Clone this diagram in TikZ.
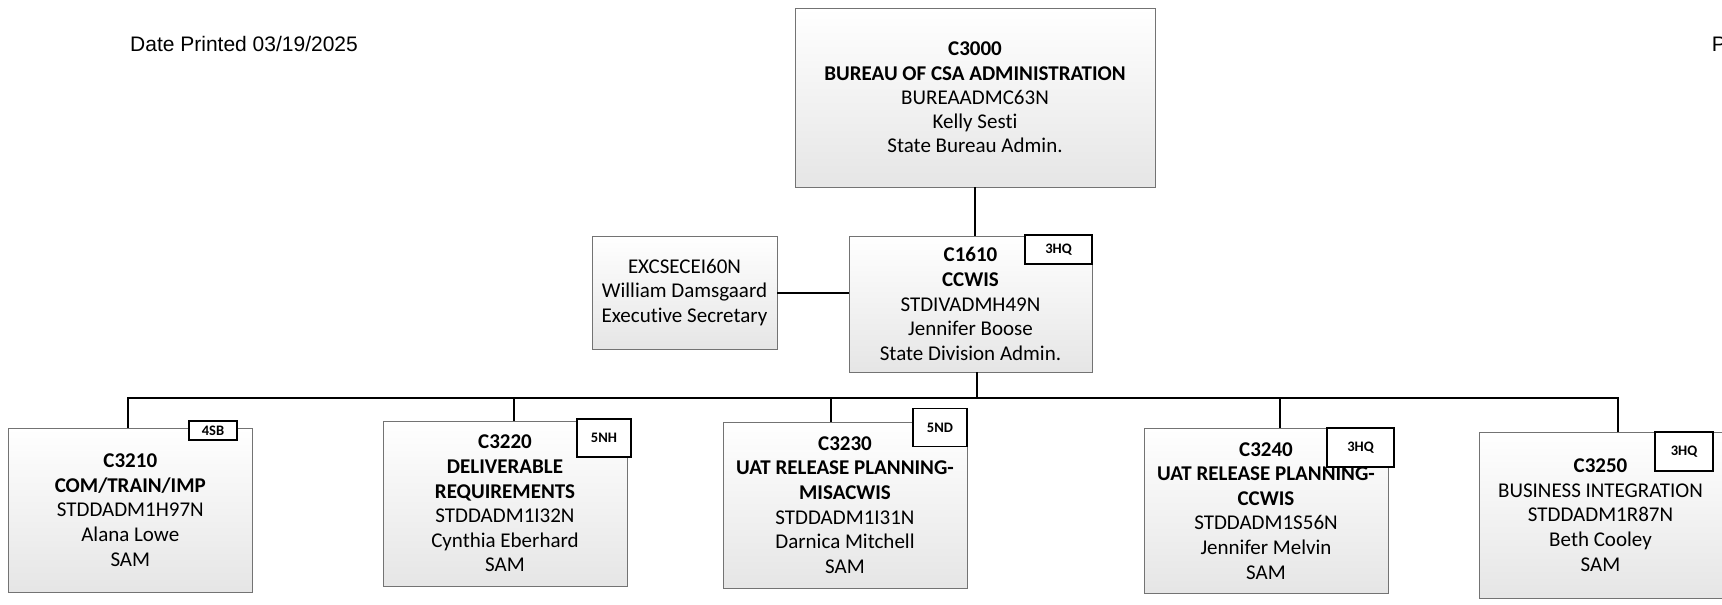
\documentclass[tikz,border=0pt]{standalone}
\usepackage{fontspec}
\setmainfont{Carlito}[Ligatures={NoCommon}]
\newfontfamily\arialfont{Liberation Sans}
\tikzset{
  unitbox/.style={draw=black!55, line width=0.9pt, top color=white, bottom color=black!10,
    inner sep=0pt, align=center, font=\fontsize{21}{24.6}\selectfont},
  tagbox/.style={draw=black, line width=1.6pt, fill=white, inner sep=0pt,
    font=\bfseries\fontsize{14.5}{16}\selectfont},
  link/.style={draw=black, line width=2pt},
  headtext/.style={anchor=base west, inner sep=0pt, font=\arialfont\fontsize{21}{24}\selectfont},
}
\begin{document}
\begin{tikzpicture}[x=1pt, y=-1pt]
\useasboundingbox (0,0) rectangle (1722,605);

\node[headtext] (date) at (130,51.7) {Date Printed 03/19/2025};
\node[headtext] (page) at (1711.7,51.7) {P};

% top
\node[unitbox, minimum width=360pt, minimum height=179pt, font=\fontsize{21}{24.2}\selectfont] (c3000) at (975,97.5)
  {\textbf{C3000}\\\textbf{BUREAU OF CSA ADMINISTRATION}\\BUREAADMC63N\\Kelly Sesti\\State Bureau Admin.};

% second level
\node[unitbox, minimum width=243pt, minimum height=136pt] (c1610) at (970.5,304)
  {\textbf{C1610}\\\textbf{CCWIS}\\STDIVADMH49N\\Jennifer Boose\\State Division Admin.};
\node[tagbox, minimum width=67pt, minimum height=29pt] (tag1610) at (1058.5,249.5) {3HQ};

\node[unitbox, minimum width=185pt, minimum height=113pt] (exc) at (684.5,292.5)
  {EXCSECEI60N\\William Damsgaard\\Executive Secretary};

% third level
\node[unitbox, minimum width=244pt, minimum height=164pt] (c3210) at (130.3,510)
  {\textbf{C3210}\\\textbf{COM/TRAIN/IMP}\\STDDADM1H97N\\Alana Lowe\\SAM};
\node[tagbox, minimum width=48pt, minimum height=19pt] (tag3210) at (213,430.5) {4SB};

\node[unitbox, minimum width=244pt, minimum height=165pt] (c3220) at (505,503.5)
  {\textbf{C3220}\\\textbf{DELIVERABLE}\\\textbf{REQUIREMENTS}\\STDDADM1I32N\\Cynthia Eberhard\\SAM};
\node[tagbox, minimum width=54pt, minimum height=38pt] (tag3220) at (604,438) {5NH};

\node[unitbox, minimum width=244pt, minimum height=166pt] (c3230) at (845,505)
  {\textbf{C3230}\\\textbf{UAT RELEASE PLANNING-}\\\textbf{MISACWIS}\\STDDADM1I31N\\Darnica Mitchell\\SAM};
\node[tagbox, minimum width=54pt, minimum height=38pt] (tag3230) at (940,427.5) {5ND};

\node[unitbox, minimum width=244pt, minimum height=165pt] (c3240) at (1266,510.8)
  {\textbf{C3240}\\\textbf{UAT RELEASE PLANNING-}\\\textbf{CCWIS}\\STDDADM1S56N\\Jennifer Melvin\\SAM};
\node[tagbox, minimum width=67pt, minimum height=39pt] (tag3240) at (1360.5,447.5) {3HQ};

\node[unitbox, minimum width=243pt, minimum height=166pt] (c3250) at (1600.5,515)
  {\textbf{C3250}\\BUSINESS INTEGRATION\\STDDADM1R87N\\Beth Cooley\\SAM};
\node[tagbox, minimum width=58pt, minimum height=39pt] (tag3250) at (1684,451.5) {3HQ};

% connectors
\draw[link] (c3000.south) -- (c3000.south |- c1610.north);
\draw[link] (exc.east) -- (exc.east -| c1610.west);
\coordinate (bus) at (977,398.3);
\draw[link] ([xshift=6.5pt]c1610.south) -- (bus);
\draw[link] ([xshift=-2pt]c3210.north) |- (bus);
\draw[link] ([xshift=9pt]c3220.north) |- (bus);
\draw[link] ([xshift=-14pt]c3230.north) |- (bus);
\draw[link] ([xshift=14pt]c3240.north) |- (bus);
\draw[link] ([xshift=17.5pt]c3250.north) |- (bus);
\end{tikzpicture}
\end{document}
